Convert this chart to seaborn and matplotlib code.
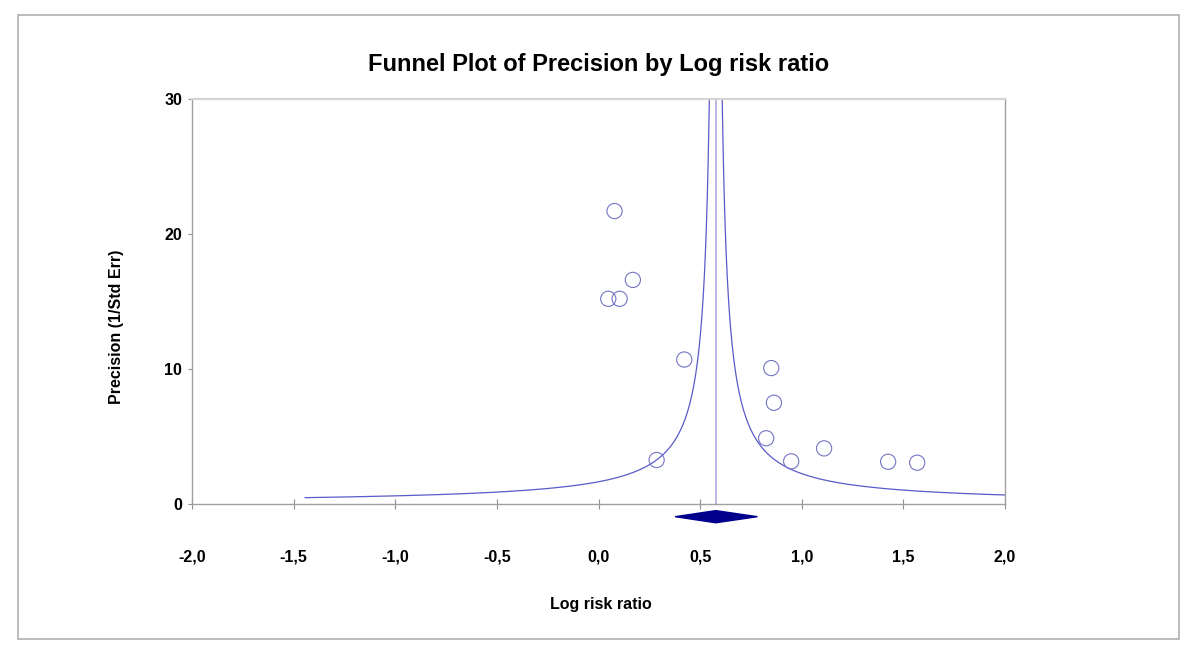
import numpy as np
import pandas as pd
import matplotlib
matplotlib.use("Agg")
import matplotlib.pyplot as plt
from matplotlib.patches import Rectangle, Polygon
from matplotlib.ticker import FuncFormatter, FixedLocator
import seaborn as sns

# ---- data ----
log_rr = [0.079, 0.169, 0.048, 0.104, 0.422, 0.286, 0.850, 0.863, 0.825, 0.948, 1.110, 1.425, 1.568]
precision = [21.7, 16.6, 15.2, 15.2, 10.7, 3.26, 10.07, 7.5, 4.87, 3.16, 4.12, 3.13, 3.06]
summary_est = 0.577
summary_ci = [0.377, 0.782]
funnel_const = 0.95          # half-width * precision of the drawn funnel
funnel_prec_min = 0.47
x_ticks = [-2.0, -1.5, -1.0, -0.5, 0.0, 0.5, 1.0, 1.5, 2.0]
y_ticks = [0, 10, 20, 30]

sns.set_theme(style="white")
plt.rcParams['font.family'] = ['Liberation Sans', 'DejaVu Sans']
plt.rcParams['text.color'] = 'black'

fig = plt.figure(figsize=(12, 6.58), dpi=100)
ax = fig.add_axes([192/1200, 1-504/658, (1005-192)/1200, (504-99)/658])

df = pd.DataFrame({"x": log_rr, "y": precision})

# funnel lines
prec = np.linspace(funnel_prec_min, 400, 20000)
funnel = pd.DataFrame({"p": prec,
                       "left": summary_est - funnel_const / prec,
                       "right": summary_est + funnel_const / prec})
ax.plot(funnel["left"], funnel["p"], color="#5a5ac8", lw=0.9)
ax.plot(funnel["right"], funnel["p"], color="#5a5ac8", lw=0.9)
ax.plot([summary_est, summary_est], [0, 30], color="#b4b4e2", lw=1.3)

sns.scatterplot(data=df, x="x", y="y", ax=ax, marker="o", s=120,
                facecolor="none", edgecolor="#7474c4", linewidth=0.8, zorder=3)

# summary diamond below axis
dy = 0.45
yc = -0.94
diamond = Polygon([(summary_ci[0], yc), (summary_est, yc + dy),
                   (summary_ci[1], yc), (summary_est, yc - dy)],
                  closed=True, facecolor="#00008c", edgecolor="#00008c",
                  clip_on=False, zorder=4)
ax.add_patch(diamond)

ax.set_xlim(-2, 2)
ax.set_ylim(0, 30)
ax.xaxis.set_major_locator(FixedLocator(x_ticks))
ax.yaxis.set_major_locator(FixedLocator(y_ticks))
fmt = FuncFormatter(lambda v, p: f"{v:.1f}".replace(".", ","))
ax.xaxis.set_major_formatter(fmt)
ax.yaxis.set_major_formatter(FuncFormatter(lambda v, p: f"{int(v)}"))

ax.tick_params(axis="x", which="major", direction="inout", length=7, width=0.8,
               color="#909090", pad=29, labelsize=11.5)
ax.tick_params(axis="y", which="major", direction="out", length=3, width=0.8,
               color="#909090", pad=4, labelsize=11.5)
ax.tick_params(bottom=True, left=True)
for lab in ax.get_xticklabels() + ax.get_yticklabels():
    lab.set_fontweight("bold")
    lab.set_color("black")

for side in ["left", "bottom", "right"]:
    ax.spines[side].set_color("#a0a0a0")
    ax.spines[side].set_linewidth(1.0)
ax.spines["top"].set_color("#d4d4d4")
ax.spines["top"].set_linewidth(1.6)

ax.set_xlabel("")
ax.set_ylabel("")
fig.text(601/1200, 1-604/658, "Log risk ratio", ha="center", va="center",
         fontsize=11.5, fontweight="bold", color="black")
fig.text(116/1200, 1-327/658, "Precision (1/Std Err)", ha="center", va="center",
         rotation=90, fontsize=11.5, fontweight="bold", color="black")
fig.text(599/1200, 1-64/658, "Funnel Plot of Precision by Log risk ratio",
         ha="center", va="center", fontsize=17, fontweight="bold", color="black")

# outer border
fig.patches.append(Rectangle((18/1200, 1-639/658), (1179-18)/1200, (639-15)/658,
                             transform=fig.transFigure, fill=False,
                             edgecolor="#b0b0b0", lw=1.2))

fig.savefig("out.png", dpi=100, facecolor="white")
